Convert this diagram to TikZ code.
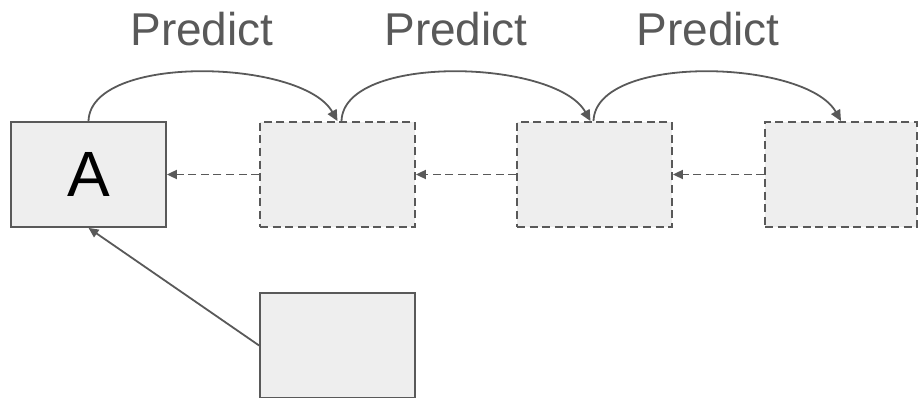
\documentclass[tikz,border=0pt]{standalone}
\usepackage{fontspec}
\setmainfont{Liberation Sans}
\usetikzlibrary{arrows.meta}
\definecolor{edgegray}{HTML}{595959}
\definecolor{boxfill}{HTML}{EEEEEE}
\begin{document}
\begin{tikzpicture}[x=1pt, y=-1pt,
    box/.style={draw=edgegray, fill=boxfill, line width=1.8pt, minimum width=155pt, minimum height=105pt, inner sep=0pt},
    ghostbox/.style={box, dash pattern=on 8pt off 4.6pt},
    arc/.style={draw=edgegray, line width=1.8pt, -{Triangle[length=11pt,width=10pt]}},
    back/.style={arc, dash pattern=on 8pt off 4.6pt, -{Triangle[length=10pt,width=9pt]}},
    predict/.style={text=edgegray, font=\fontsize{46}{46}\selectfont, anchor=base, inner sep=0pt}]
    \useasboundingbox (0,0) rectangle (918,398);
    % boxes
    \node[box, font=\fontsize{64}{64}\selectfont] (a) at (88.5,174.5) {A};
    \node[ghostbox] (b2) at (337.5,174.5) {};
    \node[ghostbox] (b3) at (594.5,174.5) {};
    \node[ghostbox, minimum width=152pt] (b4) at (841,174.5) {};
    \node[box] (src) at (337.5,345.5) {};
    % labels
    \foreach \x/\name in {202/p1, 456/p2, 708/p3} {
        \node[predict] (\name) at (\x,46) {Predict};
    }
    % predict arcs
    \draw[arc] (a.north) .. controls +(2,-68) and +(-35,-62) .. (b2.north);
    \draw[arc] ([xshift=4pt]b2.north) .. controls +(2,-68) and +(-35,-62) .. ([xshift=-4pt]b3.north);
    \draw[arc] ([xshift=-1pt]b3.north) .. controls +(2,-68) and +(-35,-62) .. (b4.north);
    % back links
    \draw[back] (b2.west) -- (a.east);
    \draw[back] (b3.west) -- (b2.east);
    \draw[back] (b4.west) -- (b3.east);
    \draw[arc, -{Triangle[length=10pt,width=9pt]}] (src.west) -- (a.south);
\end{tikzpicture}
\end{document}
